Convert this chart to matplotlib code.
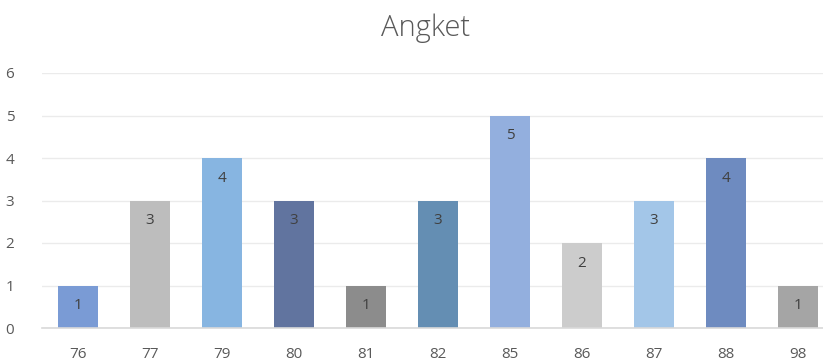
import matplotlib.pyplot as plt

categories = ["76", "77", "79", "80", "81", "82", "85", "86", "87", "88", "98"]
counts = [1, 3, 4, 3, 1, 3, 5, 2, 3, 4, 1]
bar_colors = ["#7A9BD5", "#BDBDBD", "#87B5E1", "#61749F", "#8C8C8C", "#648EB3",
              "#93AFDE", "#CCCCCC", "#A3C6E8", "#6E8BC0", "#A5A5A5"]

plt.rcParams["font.family"] = ["Open Sans", "DejaVu Sans"]

fig = plt.figure(figsize=(8.23, 3.63), dpi=100)
ax = fig.add_axes([42 / 823, 1 - 328 / 363, 1 - 42 / 823, (328 - 73) / 363 * 1.0])

x = list(range(len(categories)))
bars = ax.bar(x, counts, width=0.55, color=bar_colors, zorder=2)
for b, v in zip(bars, counts):
    ax.text(b.get_x() + b.get_width() / 2, v - 0.48, str(v), ha="center", va="center",
            fontsize=11, color="#404040", zorder=3)

ax.set_xlim(-0.5, 10.35)
ax.set_ylim(0, 6)
ax.set_yticks(range(0, 7))
ax.set_xticks(x)
ax.set_xticklabels(categories)
ax.yaxis.grid(True, color="#EBEBEB", linewidth=1, zorder=0)
ax.tick_params(axis="both", length=0, labelsize=11, labelcolor="#595959")
ax.tick_params(axis="x", pad=14)
ax.tick_params(axis="y", pad=20)
for side in ["top", "right", "left"]:
    ax.spines[side].set_visible(False)
ax.spines["bottom"].set_color("#D9D9D9")
ax.spines["bottom"].set_linewidth(1.2)

fig.text(426 / 823, 1 - 28 / 363, "Angket", ha="center", va="center",
         fontsize=21, color="#595959", fontweight="light")

fig.savefig("out.png", dpi=100)
